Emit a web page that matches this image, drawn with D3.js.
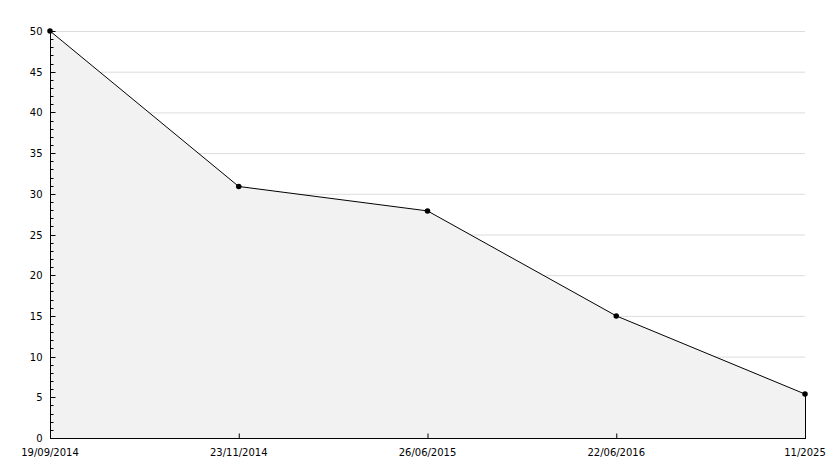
<!DOCTYPE html>
<html><head><meta charset="utf-8">
<script src="https://cdn.jsdelivr.net/npm/d3@7"></script>
<style>body{margin:0;background:#fff}svg{display:block}text{font-family:"DejaVu Sans",sans-serif;font-size:10px;fill:#000}</style>
</head><body><svg id="c" width="834" height="468"></svg>
<script>
const categories = ["19/09/2014","23/11/2014","26/06/2015","22/06/2016","11/2025"];
const values = [50, 30.9, 27.9, 15.0, 5.4];
const yTicks = [0,5,10,15,20,25,30,35,40,45,50];

const svg = d3.select("#c");
const L = 50, R = 805, T = 31, B = 438;
const x = d3.scalePoint().domain(categories).range([L, R]);
const y = d3.scaleLinear().domain([0, 50]).range([B, T]);

// gridlines
svg.append("g").selectAll("line").data(yTicks.filter(d => d > 0)).join("line")
  .attr("x1", L).attr("x2", R).attr("y1", d => y(d) + 0.5).attr("y2", d => y(d) + 0.5)
  .attr("stroke", "#dcdcdc").attr("stroke-width", 1);

const data = categories.map((c, i) => ({c, v: values[i]}));

// area
svg.append("path").datum(data)
  .attr("d", d3.area().x(d => x(d.c)).y0(B).y1(d => y(d.v)))
  .attr("fill", "#f2f2f2");

// right edge vertical line
svg.append("line").attr("x1", x(categories[4]) + 0.5).attr("x2", x(categories[4]) + 0.5)
  .attr("y1", y(values[4])).attr("y2", B).attr("stroke", "#000");

// line
svg.append("path").datum(data)
  .attr("d", d3.line().x(d => x(d.c)).y(d => y(d.v)))
  .attr("fill", "none").attr("stroke", "#000").attr("stroke-width", 1);

// y axis
const ya = svg.append("g").attr("transform", `translate(${L + 0.5},0)`);
ya.append("line").attr("y1", T - 1).attr("y2", B + 1).attr("stroke", "#000");
const minor = d3.range(0, 51, 1);
ya.selectAll(".mn").data(minor).join("line")
  .attr("x1", 0).attr("x2", d => d % 5 === 0 ? 5 : 3)
  .attr("y1", d => Math.round(y(d)) + 0.5).attr("y2", d => Math.round(y(d)) + 0.5)
  .attr("stroke", "#000");
ya.selectAll("text").data(yTicks).join("text")
  .attr("x", -8).attr("y", d => y(d) + 4).attr("text-anchor", "end").text(d => d);

// x axis
const xa = svg.append("g").attr("transform", `translate(0,${B + 0.5})`);
xa.append("line").attr("x1", L).attr("x2", R + 1).attr("stroke", "#000");
xa.selectAll(".tk").data(categories).join("line")
  .attr("x1", d => x(d) + 0.5).attr("x2", d => x(d) + 0.5).attr("y1", 0).attr("y2", -5)
  .attr("stroke", "#000");
xa.selectAll("text").data(categories).join("text")
  .attr("x", d => x(d)).attr("y", 17).attr("text-anchor", "middle").text(d => d);

// markers
svg.append("g").selectAll("path").data(data).join("path")
  .attr("transform", d => `translate(${x(d.c)},${y(d.v)})`)
  .attr("d", d3.symbol().type(d3.symbolCircle).size(24))
  .attr("fill", "#000");
</script></body></html>
